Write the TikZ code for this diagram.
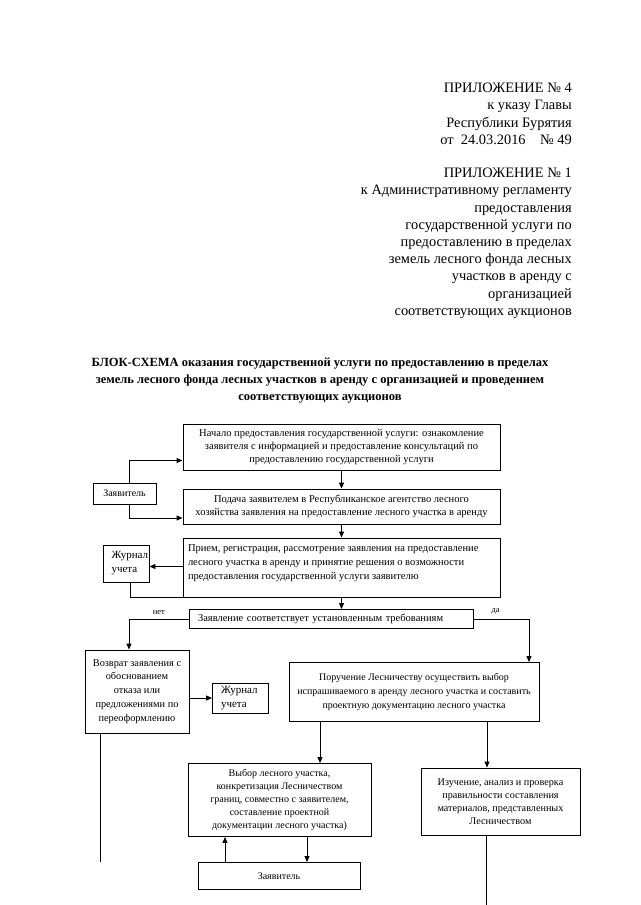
\documentclass[tikz,border=0pt]{standalone}
\usepackage{fontspec}
\setmainfont{Liberation Serif}
\usetikzlibrary{arrows.meta,calc}
\tikzset{
  box/.style={draw=black, line width=0.9pt, inner sep=3pt, font=\fontsize{10.5}{13}\selectfont},
  arr/.style={line width=0.9pt, -{Triangle[length=6pt,width=5pt]}},
  ln/.style={line width=0.9pt},
  hdr/.style={anchor=north east, align=right, inner sep=0pt, font=\fontsize{14.4}{17.2}\selectfont},
  lbl/.style={inner sep=0pt, font=\fontsize{8.5}{9}\selectfont},
  jbox/.style={box, inner xsep=0.5pt, text width=45, align=left, font=\fontsize{11}{14}\selectfont},
}
\begin{document}
\begin{tikzpicture}[x=1pt,y=-1pt]
\useasboundingbox (0,0) rectangle (640,905);
\fill[white] (0,0) rectangle (640,905);
% header
\node[hdr] (h1) at (572,83) {ПРИЛОЖЕНИЕ № 4\\к указу Главы\\Республики Бурятия\\от\ \ 24.03.2016\ \ \ \ № 49};
\node[hdr] (h2) at (572,168) {ПРИЛОЖЕНИЕ № 1\\к Административному регламенту\\предоставления\\государственной услуги по\\предоставлению в пределах\\земель лесного фонда лесных\\участков в аренду с\\организацией\\соответствующих аукционов};
% title
\node[align=center, inner sep=0pt, font=\bfseries\fontsize{12.5}{17}\selectfont] (title) at (320,381) {БЛОК-СХЕМА оказания государственной услуги по предоставлению в пределах\\земель лесного фонда лесных участков в аренду с организацией и проведением\\соответствующих аукционов};
% boxes
\node[box, minimum width=317, minimum height=46, align=center] (b1) at (341.5,447.5) {Начало предоставления государственной услуги: ознакомление\\заявителя с информацией и предоставление консультаций по\\предоставлению государственной услуги};
\node[box, inner xsep=1pt, minimum width=63, minimum height=21, align=center, font=\fontsize{10}{12}\selectfont] (z1) at (124.5,493.5) {Заявитель};
\node[box, minimum width=317, minimum height=35, align=center] (b2) at (341.5,506.5) {Подача заявителем в Республиканское агентство лесного\\хозяйства заявления на предоставление лесного участка в аренду};
\node[box, minimum width=317, minimum height=59, inner xsep=5pt, inner ysep=1pt] (b3) at (341.5,567.5) {\parbox[c][56pt][t]{307pt}{\raggedright\fontsize{10.5}{14}\selectfont\vspace*{5pt}Прием, регистрация, рассмотрение заявления на предоставление\\лесного участка в аренду и принятие решения о возможности\\предоставления государственной услуги заявителю}};
\node[jbox, minimum width=46, minimum height=37] (j1) at (126,563.5) {\hspace*{8pt}Журнал\\\hspace*{8pt}учета};
\node[box, minimum width=284, minimum height=19, inner xsep=9pt, text width=266, align=left] (dec) at (331,619) {Заявление соответствует установленным требованиям};
\node[box, minimum width=104, minimum height=83, align=center, font=\fontsize{10.3}{13.8}\selectfont] (b4) at (137,691.5) {Возврат заявления с\\обоснованием\\отказа или\\предложениями по\\переоформлению};
\node[jbox, minimum width=56, minimum height=30, text width=55] (j2) at (240.5,698) {\hspace*{8pt}Журнал\\\hspace*{8pt}учета};
\node[box, minimum width=250, minimum height=59, align=center, font=\fontsize{10}{14}\selectfont] (b5) at (414,692) {Поручение Лесничеству осуществить выбор\\испрашиваемого в аренду лесного участка и составить\\проектную документацию лесного участка};
\node[box, minimum width=183, minimum height=73, align=center, font=\fontsize{10}{12.8}\selectfont] (b6) at (279.5,800) {Выбор лесного участка,\\конкретизация Лесничеством\\границ, совместно с заявителем,\\составление проектной\\документации лесного участка)};
\node[box, minimum width=162, minimum height=27, align=center, font=\fontsize{10}{12}\selectfont] (z2) at (279,876) {Заявитель};
\node[box, minimum width=159, minimum height=67, align=center, font=\fontsize{10.2}{13}\selectfont] (b7) at (500.5,801.5) {Изучение, анализ и проверка\\правильности составления\\материалов, представленных\\Лесничеством};
% free ends
\coordinate (e1) at (100,862);
\coordinate (e2) at (486,905);
% connectors
\draw[arr] ([xshift=5]z1.north) |- ([yshift=-13]b1.west);
\draw[arr] ([xshift=5]z1.south) |- ([yshift=-11.5]b2.west);
\draw[arr] (b1.south) -- (b2.north);
\draw[arr] (b2.south) -- (b3.north);
\draw[arr] ([yshift=-3]b3.west |- j1.east) -- ([yshift=-3]j1.east);
\draw[ln] ([xshift=4]j1.south) |- (b3.south west);
\draw[arr] (b3.south) -- (b3.south |- dec.north);
\draw[arr] (dec.west) -| ([xshift=-8]b4.north) node[lbl, pos=0.25, above=4pt] {нет};
\draw[arr] (dec.east) -| ([xshift=115]b5.north) node[lbl, pos=0.2, above=4pt] {да};
\draw[arr] (b4.east |- j2.west) -- (j2.west);
\draw[ln] (b4.south -| e1) -- (e1);
\draw[arr] (b5.south -| 320,0) -- (b6.north -| 320,0);
\draw[arr] (b5.south -| 487,0) -- (b7.north -| 487,0);
\draw[ln] (b7.south -| e2) -- (e2);
\draw[arr] (z2.north -| 225,0) -- (b6.south -| 225,0);
\draw[arr] (b6.south -| 307,0) -- (z2.north -| 307,0);
\end{tikzpicture}
\end{document}
